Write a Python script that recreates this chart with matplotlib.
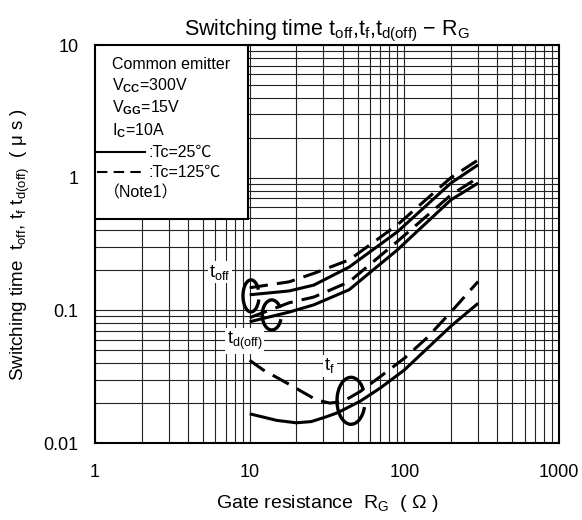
import matplotlib
matplotlib.use("Agg")
import matplotlib.pyplot as plt
from matplotlib.patches import Arc, Rectangle
from matplotlib.transforms import ScaledTranslation
from matplotlib.lines import Line2D

plt.rcParams['font.family'] = ['Liberation Sans', 'Noto Sans CJK JP', 'DejaVu Sans']
plt.rcParams['mathtext.fontset'] = 'custom'
plt.rcParams['mathtext.rm'] = 'Liberation Sans'
plt.rcParams['mathtext.it'] = 'Liberation Sans'
plt.rcParams['mathtext.bf'] = 'Liberation Sans:bold'

# values (R_G in ohm, times in us)
rg_sw = [10, 18, 26, 44, 90, 200, 300]
toff_25 = [0.131, 0.14, 0.155, 0.212, 0.39, 0.91, 1.25]
toff_125 = [0.148, 0.164, 0.19, 0.24, 0.44, 1.0, 1.36]
tdoff_25 = [0.082, 0.097, 0.11, 0.143, 0.285, 0.68, 0.91]
tdoff_125 = [0.088, 0.114, 0.126, 0.164, 0.33, 0.74, 1.0]

rg_tf25 = [10, 15, 20, 25, 30, 37, 52, 70, 100, 200, 300]
tf_25 = [0.0166, 0.0148, 0.0142, 0.0145, 0.0155, 0.0169, 0.0207, 0.026, 0.0355, 0.076, 0.113]
rg_tf125 = [10, 12.2, 18.3, 27, 33, 40, 52, 70, 100, 140, 200, 300]
tf_125 = [0.042, 0.0356, 0.0274, 0.0211, 0.0200, 0.0205, 0.0245, 0.0317, 0.0435, 0.062, 0.097, 0.165]

xticks = [1, 10, 100, 1000]
xlabels = ["1", "10", "100", "1000"]
yticks = [0.01, 0.1, 1, 10]
ylabels = ["0.01", "0.1", "1", "10"]

legend_lines = ["Common emitter", "V$_{\\mathbf{CC}}$=300V", "V$_{\\mathbf{GG}}$=15V", "I$_{\\mathbf{C}}$=10A"]

fig = plt.figure(figsize=(5.82, 5.20), dpi=100)
ax = fig.add_axes([95/582, 77/520, 464/582, 398/520])
ax.set_xscale('log')
ax.set_yscale('log')
ax.set_xlim(1, 1000)
ax.set_ylim(0.01, 10)

ax.grid(True, which='both', color='#222222', lw=0.8)
ax.set_axisbelow(True)
ax.set_xticks(xticks)
ax.set_xticklabels(xlabels)
ax.set_yticks(yticks)
ax.set_yticklabels(ylabels)
ax.tick_params(which='both', length=0, labelsize=13)
ax.tick_params(axis='x', pad=15)
ax.tick_params(axis='y', pad=12)
for sp in ax.spines.values():
    sp.set_linewidth(1.5)

dash = (0, (6, 3))
kw = dict(color='black', lw=2.2, solid_capstyle='butt', zorder=4)
ax.plot(rg_sw, toff_25, **kw)
ax.plot(rg_sw, toff_125, ls=dash, **kw)
ax.plot(rg_sw, tdoff_25, **kw)
ax.plot(rg_sw, tdoff_125, ls=dash, **kw)
ax.plot(rg_tf25, tf_25, **kw)
ax.plot(rg_tf125, tf_125, ls=dash, **kw)

# hand drawn "C" marks grouping each pair of curves
def mark(x, y, w, h):
    tr = fig.dpi_scale_trans + ScaledTranslation(x, y, ax.transData)
    ax.add_patch(Arc((0, 0), w/100, h/100, theta1=40, theta2=335,
                     transform=tr, color='black', lw=2.4, zorder=5))

mark(10.2, 0.1285, 16, 32)
mark(13.9, 0.0923, 19, 30)
mark(45.2, 0.0208, 28, 47)

bb = dict(facecolor='white', edgecolor='none', pad=1)
ax.text(6.43, 0.1945, "t$_{\\mathrm{off}}$", fontsize=13, ha='center', va='center', bbox=bb, zorder=6)
ax.text(9.3, 0.0587, "t$_{\\mathrm{d(off)}}$", fontsize=13, ha='center', va='center', bbox=bb, zorder=6)
ax.text(33, 0.0381, "t$_{\\mathrm{f}}$", fontsize=13, ha='center', va='center', bbox=bb, zorder=6)

# condition box in the upper left corner
box_w = (248 - 95) / 464
box_h = (219 - 45) / 398
ax.add_patch(Rectangle((0, 1 - box_h), box_w, box_h, transform=ax.transAxes,
                       facecolor='white', edgecolor='black', lw=1.5, zorder=7))
ty = [0.950, 0.899, 0.842, 0.786]
for s, y in zip(legend_lines, ty):
    ax.text(0.037, y, s, transform=ax.transAxes, fontsize=11.5, va='center', zorder=8)
ax.add_line(Line2D([0.005, 0.108], [0.731, 0.731], transform=ax.transAxes, color='black', lw=1.5, zorder=8))
ax.add_line(Line2D([0.005, 0.108], [0.681, 0.681], transform=ax.transAxes, color='black', lw=1.5,
                   ls=(0, (5, 3)), zorder=8))
ax.text(0.115, 0.731, ":Tc=25℃", transform=ax.transAxes, fontsize=11.5, va='center', zorder=8)
ax.text(0.115, 0.681, ":Tc=125℃", transform=ax.transAxes, fontsize=11.5, va='center', zorder=8)
ax.text(0.02, 0.628, "（Note1）", transform=ax.transAxes, fontsize=11.5, va='center', zorder=8)

ax.set_xlabel("Gate resistance  R$_{\\mathrm{G}}$  ( Ω )", fontsize=14, labelpad=9)
ax.set_ylabel("Switching time  t$_{\\mathrm{off}}$, t$_{\\mathrm{f}}$ t$_{\\mathrm{d(off)}}$  ( μ s )", fontsize=13.5, labelpad=8)
ax.set_title("Switching time t$_{\\mathrm{off}}$,t$_{\\mathrm{f}}$,t$_{\\mathrm{d(off)}}$ − R$_{\\mathrm{G}}$", fontsize=15.5, pad=7)

fig.savefig("out.png", dpi=100)
